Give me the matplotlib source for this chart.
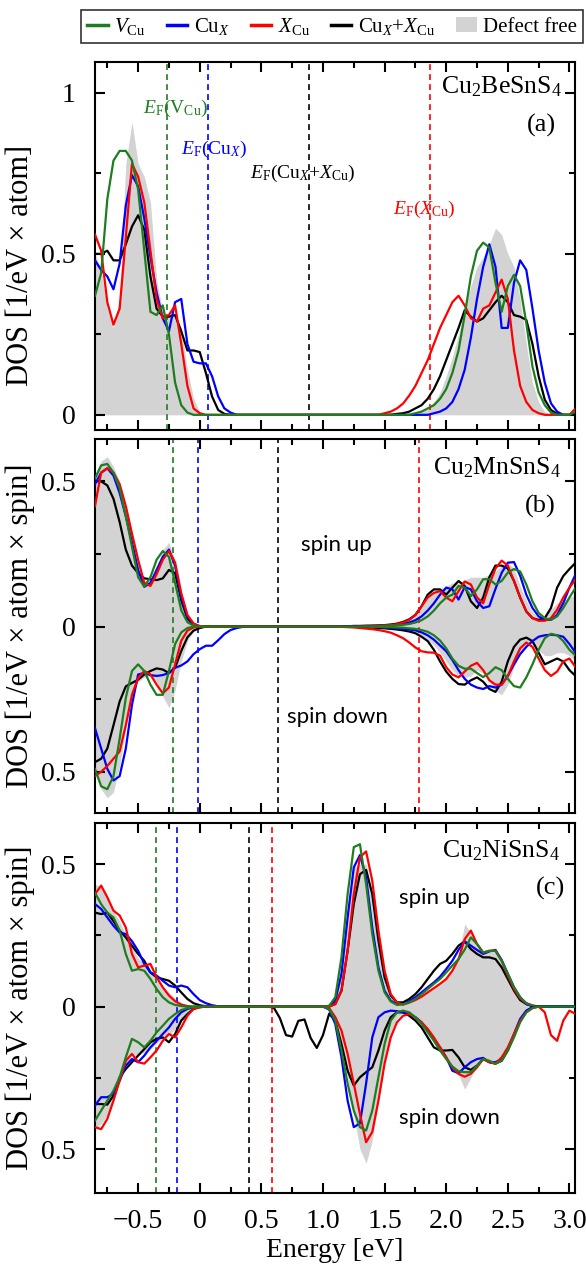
import numpy as np
import matplotlib
matplotlib.use('Agg')
import matplotlib.pyplot as plt
from matplotlib.lines import Line2D
from matplotlib.patches import Patch
from matplotlib.ticker import MultipleLocator

plt.rcParams['font.family'] = 'Liberation Serif'
plt.rcParams['mathtext.fontset'] = 'custom'
plt.rcParams['mathtext.rm'] = 'Liberation Serif'
plt.rcParams['mathtext.it'] = 'Liberation Serif:italic'
plt.rcParams['mathtext.bf'] = 'Liberation Serif:bold'

# energy grid [eV]
energy = [-0.85, -0.80, -0.75, -0.70, -0.65, -0.60, -0.55, -0.50, -0.45, -0.40,
          -0.35, -0.30, -0.25, -0.20, -0.15, -0.10, -0.05, 0.00, 0.05, 0.10,
          0.15, 0.20, 0.25, 0.30, 0.35, 0.40, 0.45, 0.50, 0.55, 0.60,
          0.65, 0.70, 0.75, 0.80, 0.85, 0.90, 0.95, 1.00, 1.05, 1.10,
          1.15, 1.20, 1.25, 1.30, 1.35, 1.40, 1.45, 1.50, 1.55, 1.60,
          1.65, 1.70, 1.75, 1.80, 1.85, 1.90, 1.95, 2.00, 2.05, 2.10,
          2.15, 2.20, 2.25, 2.30, 2.35, 2.40, 2.45, 2.50, 2.55, 2.60,
          2.65, 2.70, 2.75, 2.80, 2.85, 2.90, 2.95, 3.00, 3.05]

# ---- (a) Cu2BeSnS4 ----
a_free = [0.50, 0.45, 0.33, 0.27, 0.36, 0.78, 0.91, 0.78, 0.74, 0.66,
          0.42, 0.32, 0.31, 0.31, 0.27, 0.14, 0.05, 0.01, 0, 0,
          0, 0, 0, 0, 0, 0, 0, 0, 0, 0,
          0, 0, 0, 0, 0, 0, 0, 0, 0, 0,
          0, 0, 0, 0, 0, 0, 0, 0, 0, 0,
          0, 0, 0.005, 0.01, 0.02, 0.04, 0.07, 0.12, 0.18, 0.25,
          0.33, 0.40, 0.46, 0.49, 0.53, 0.58, 0.56, 0.50, 0.46, 0.36,
          0.22, 0.10, 0.04, 0.01, 0, 0, 0, 0, 0.01]
a_vcu = [0.37, 0.44, 0.67, 0.79, 0.82, 0.82, 0.79, 0.70, 0.51, 0.32,
         0.31, 0.34, 0.25, 0.10, 0.03, 0.007, 0, 0, 0, 0,
         0, 0, 0, 0, 0, 0, 0, 0, 0, 0,
         0, 0, 0, 0, 0, 0, 0, 0, 0, 0,
         0, 0, 0, 0, 0, 0, 0, 0, 0, 0,
         0, 0, 0.005, 0.01, 0.02, 0.03, 0.05, 0.08, 0.13, 0.20,
         0.31, 0.43, 0.51, 0.535, 0.52, 0.41, 0.32, 0.40, 0.435, 0.40,
         0.285, 0.15, 0.07, 0.03, 0.007, 0, 0, 0, 0.01]
a_cux = [0.48, 0.45, 0.43, 0.39, 0.47, 0.65, 0.745, 0.71, 0.61, 0.49,
         0.38, 0.30, 0.26, 0.35, 0.36, 0.22, 0.165, 0.16, 0.16, 0.12,
         0.057, 0.02, 0.007, 0, 0, 0, 0, 0, 0, 0,
         0, 0, 0, 0, 0, 0, 0, 0, 0, 0,
         0, 0, 0, 0, 0, 0, 0, 0, 0, 0,
         0, 0, 0, 0, 0, 0.005, 0.01, 0.02, 0.04, 0.08,
         0.14, 0.24, 0.36, 0.46, 0.53, 0.46, 0.27, 0.27, 0.41, 0.48,
         0.45, 0.33, 0.20, 0.10, 0.036, 0.01, 0, 0, 0.01]
a_xcu = [0.56, 0.51, 0.35, 0.28, 0.33, 0.55, 0.78, 0.74, 0.66, 0.51,
         0.36, 0.30, 0.31, 0.34, 0.22, 0.09, 0.02, 0.005, 0, 0,
         0, 0, 0, 0, 0, 0, 0, 0, 0, 0,
         0, 0, 0, 0, 0, 0, 0, 0, 0, 0,
         0, 0, 0, 0, 0, 0, 0, 0.005, 0.01, 0.02,
         0.035, 0.06, 0.09, 0.13, 0.17, 0.22, 0.27, 0.31, 0.35, 0.37,
         0.34, 0.30, 0.29, 0.33, 0.34, 0.38, 0.42, 0.36, 0.20, 0.09,
         0.04, 0.015, 0.005, 0, 0, 0, 0, 0, 0.02]
a_both = [0.50, 0.50, 0.51, 0.48, 0.48, 0.53, 0.585, 0.62, 0.575, 0.43,
          0.33, 0.305, 0.305, 0.31, 0.26, 0.20, 0.20, 0.195, 0.13, 0.057,
          0.015, 0.003, 0, 0, 0, 0, 0, 0, 0, 0,
          0, 0, 0, 0, 0, 0, 0, 0, 0, 0,
          0, 0, 0, 0, 0, 0, 0, 0, 0, 0.003,
          0.005, 0.01, 0.02, 0.03, 0.05, 0.08, 0.12, 0.17, 0.22, 0.27,
          0.325, 0.305, 0.29, 0.30, 0.325, 0.35, 0.37, 0.35, 0.31, 0.305,
          0.295, 0.22, 0.12, 0.047, 0.015, 0.003, 0, 0, 0.005]

# ---- (b) Cu2MnSnS4, spin up ----
b_free_up = [0.52, 0.57, 0.585, 0.55, 0.50, 0.42, 0.33, 0.235, 0.16, 0.16,
             0.20, 0.265, 0.29, 0.23, 0.12, 0.045, 0.012, 0.003, 0, 0,
             0, 0, 0, 0, 0, 0, 0, 0, 0, 0,
             0, 0, 0, 0, 0, 0, 0, 0, 0, 0.001,
             0.001, 0.002, 0.002, 0.003, 0.004, 0.006, 0.008, 0.01, 0.012, 0.015,
             0.02, 0.03, 0.045, 0.07, 0.10, 0.12, 0.13, 0.14, 0.15, 0.15,
             0.16, 0.17, 0.17, 0.17, 0.18, 0.19, 0.21, 0.22, 0.20, 0.14,
             0.09, 0.05, 0.03, 0.04, 0.06, 0.08, 0.09, 0.10, 0.11]
b_vcu_up = [0.51, 0.555, 0.56, 0.53, 0.475, 0.38, 0.275, 0.17, 0.137, 0.17,
            0.23, 0.26, 0.24, 0.15, 0.056, 0.015, 0.003, 0, 0, 0,
            0, 0, 0, 0, 0, 0, 0, 0, 0, 0,
            0, 0, 0, 0, 0, 0, 0, 0, 0, 0,
            0, 0, 0, 0, 0, 0.001, 0.001, 0.002, 0.003, 0.004,
            0.006, 0.009, 0.014, 0.022, 0.035, 0.055, 0.08, 0.10, 0.11, 0.14,
            0.134, 0.105, 0.128, 0.163, 0.163, 0.145, 0.157, 0.186, 0.198, 0.19,
            0.145, 0.087, 0.047, 0.029, 0.023, 0.035, 0.064, 0.10, 0.134]
b_cux_up = [0.49, 0.53, 0.545, 0.52, 0.46, 0.38, 0.29, 0.195, 0.137, 0.15,
            0.195, 0.24, 0.265, 0.21, 0.10, 0.033, 0.01, 0, 0, 0,
            0, 0, 0, 0, 0, 0, 0, 0, 0, 0,
            0, 0, 0, 0, 0, 0, 0, 0, 0, 0,
            0, 0, 0, 0, 0, 0.002, 0.002, 0.003, 0.004, 0.006,
            0.009, 0.014, 0.022, 0.035, 0.055, 0.08, 0.11, 0.134, 0.128, 0.093,
            0.136, 0.128, 0.087, 0.064, 0.07, 0.13, 0.185, 0.22, 0.222, 0.175,
            0.11, 0.064, 0.035, 0.023, 0.023, 0.04, 0.081, 0.134, 0.18]
b_xcu_up = [0.415, 0.53, 0.545, 0.53, 0.49, 0.415, 0.32, 0.23, 0.15, 0.14,
            0.18, 0.23, 0.26, 0.22, 0.115, 0.04, 0.01, 0.002, 0, 0,
            0, 0, 0, 0, 0, 0, 0, 0, 0, 0,
            0, 0, 0, 0, 0, 0, 0, 0, 0, 0.001,
            0.001, 0.001, 0.002, 0.002, 0.002, 0.003, 0.003, 0.004, 0.005, 0.008,
            0.014, 0.023, 0.04, 0.07, 0.10, 0.116, 0.122, 0.10, 0.087, 0.122,
            0.155, 0.145, 0.10, 0.08, 0.145, 0.20, 0.227, 0.21, 0.157, 0.10,
            0.052, 0.029, 0.02, 0.02, 0.029, 0.058, 0.10, 0.134, 0.163]
b_both_up = [0.50, 0.50, 0.486, 0.44, 0.36, 0.265, 0.21, 0.184, 0.166, 0.163,
             0.16, 0.166, 0.195, 0.184, 0.09, 0.027, 0.007, 0, 0, 0,
             0, 0, 0, 0, 0, 0, 0, 0, 0, 0,
             0, 0, 0, 0, 0, 0, 0, 0, 0, 0,
             0.001, 0.001, 0.002, 0.002, 0.003, 0.003, 0.004, 0.005, 0.007, 0.01,
             0.016, 0.025, 0.04, 0.07, 0.11, 0.128, 0.128, 0.11, 0.134, 0.157,
             0.14, 0.087, 0.064, 0.10, 0.17, 0.21, 0.21, 0.20, 0.157, 0.10,
             0.052, 0.029, 0.023, 0.029, 0.064, 0.134, 0.174, 0.198, 0.22]

# ---- (b) spin down ----
b_free_dn = [-0.50, -0.56, -0.59, -0.57, -0.48, -0.35, -0.24, -0.19, -0.175, -0.17,
             -0.19, -0.24, -0.28, -0.22, -0.12, -0.05, -0.015, -0.003, 0, 0,
             0, 0, 0, 0, 0, 0, 0, 0, 0, 0,
             0, 0, 0, 0, 0, 0, 0, 0, 0, 0,
             0, 0, 0, 0, -0.002, -0.003, -0.004, -0.005, -0.006, -0.008,
             -0.011, -0.015, -0.02, -0.03, -0.045, -0.065, -0.09, -0.12, -0.15, -0.17,
             -0.175, -0.17, -0.15, -0.16, -0.19, -0.22, -0.235, -0.20, -0.14, -0.09,
             -0.06, -0.06, -0.08, -0.10, -0.10, -0.09, -0.09, -0.10, -0.12]
b_vcu_dn = [-0.49, -0.55, -0.56, -0.515, -0.386, -0.246, -0.153, -0.13, -0.153, -0.20,
            -0.235, -0.235, -0.153, -0.06, -0.02, -0.005, 0, 0, 0, 0,
            0, 0, 0, 0, 0, 0, 0, 0, 0, 0,
            0, 0, 0, 0, 0, 0, 0, 0, 0, 0,
            0, 0, 0, 0, 0, -0.001, -0.001, -0.002, -0.002, -0.003,
            -0.004, -0.006, -0.008, -0.012, -0.018, -0.03, -0.048, -0.075, -0.11, -0.135,
            -0.145, -0.145, -0.16, -0.174, -0.16, -0.14, -0.15, -0.18, -0.205, -0.21,
            -0.175, -0.13, -0.08, -0.04, -0.025, -0.03, -0.05, -0.08, -0.10]
b_cux_dn = [-0.35, -0.42, -0.49, -0.53, -0.515, -0.42, -0.27, -0.165, -0.16, -0.167,
            -0.17, -0.167, -0.16, -0.142, -0.134, -0.12, -0.095, -0.078, -0.066, -0.066,
            -0.047, -0.026, -0.012, -0.005, -0.001, 0, 0, 0, 0, 0,
            0, 0, 0, 0, 0, 0, 0, 0, 0, 0,
            0, 0, 0, 0, -0.001, -0.001, -0.002, -0.003, -0.004, -0.006,
            -0.008, -0.01, -0.013, -0.02, -0.03, -0.045, -0.065, -0.085, -0.115, -0.15,
            -0.18, -0.20, -0.21, -0.215, -0.205, -0.21, -0.20, -0.17, -0.13, -0.095,
            -0.07, -0.05, -0.035, -0.03, -0.028, -0.03, -0.035, -0.06, -0.09]
b_xcu_dn = [-0.515, -0.50, -0.48, -0.455, -0.43, -0.34, -0.235, -0.177, -0.153, -0.165,
            -0.20, -0.23, -0.21, -0.13, -0.049, -0.014, -0.003, 0, 0, 0,
            0, 0, 0, 0, 0, 0, 0, 0, 0, 0,
            0, 0, 0, 0, 0, 0, 0, 0, 0, 0,
            -0.001, -0.002, -0.003, -0.005, -0.007, -0.009, -0.012, -0.016, -0.021, -0.03,
            -0.04, -0.055, -0.072, -0.085, -0.089, -0.09, -0.10, -0.14, -0.165, -0.175,
            -0.155, -0.135, -0.125, -0.15, -0.185, -0.20, -0.20, -0.17, -0.12, -0.075,
            -0.055, -0.07, -0.11, -0.15, -0.17, -0.155, -0.12, -0.11, -0.14]
b_both_dn = [-0.467, -0.455, -0.42, -0.34, -0.258, -0.206, -0.194, -0.183, -0.165, -0.153,
             -0.144, -0.148, -0.16, -0.142, -0.084, -0.037, -0.014, -0.005, 0, 0,
             0, 0, 0, 0, 0, 0, 0, 0, 0, 0,
             0, 0, 0, 0, 0, 0, 0, 0, 0, 0,
             0, 0, 0, 0, -0.003, -0.004, -0.005, -0.006, -0.008, -0.01,
             -0.013, -0.017, -0.023, -0.035, -0.05, -0.08, -0.12, -0.155, -0.18, -0.198,
             -0.20, -0.185, -0.175, -0.19, -0.215, -0.225, -0.19, -0.12, -0.07, -0.045,
             -0.038, -0.05, -0.09, -0.13, -0.12, -0.11, -0.12, -0.15, -0.17]

# ---- (c) Cu2NiSnS4, spin up ----
c_free_up = [0.43, 0.42, 0.38, 0.335, 0.30, 0.25, 0.21, 0.17, 0.15, 0.125,
             0.095, 0.07, 0.05, 0.03, 0.015, 0.006, 0.002, 0, 0, 0,
             0, 0, 0, 0, 0, 0, 0, 0, 0, 0,
             0, 0, 0, 0, 0, 0, 0, 0, 0.003, 0.02,
             0.15, 0.35, 0.49, 0.50, 0.50, 0.40, 0.24, 0.11, 0.04, 0.012,
             0.005, 0.012, 0.022, 0.035, 0.05, 0.065, 0.08, 0.10, 0.13, 0.18,
             0.29, 0.26, 0.21, 0.19, 0.195, 0.195, 0.16, 0.11, 0.065, 0.03,
             0.01, 0.003, 0, 0, 0, 0, 0, 0, 0]
c_vcu_up = [0.40, 0.36, 0.33, 0.313, 0.267, 0.185, 0.126, 0.132, 0.126, 0.097,
            0.062, 0.033, 0.015, 0.006, 0.002, 0, 0, 0, 0, 0,
            0, 0, 0, 0, 0, 0, 0, 0, 0, 0,
            0, 0, 0, 0, 0, 0, 0, 0, 0.003, 0.033,
            0.173, 0.395, 0.56, 0.57, 0.43, 0.255, 0.126, 0.05, 0.018, 0.006,
            0.008, 0.015, 0.027, 0.044, 0.062, 0.08, 0.097, 0.12, 0.144, 0.167,
            0.20, 0.243, 0.22, 0.19, 0.196, 0.196, 0.161, 0.115, 0.068, 0.033,
            0.012, 0.004, 0, 0, 0, 0, 0, 0, 0]
c_cux_up = [0.36, 0.343, 0.313, 0.284, 0.26, 0.255, 0.23, 0.196, 0.15, 0.12,
            0.109, 0.091, 0.074, 0.068, 0.074, 0.068, 0.044, 0.023, 0.012, 0.005,
            0.001, 0, 0, 0, 0, 0, 0, 0, 0, 0,
            0, 0, 0, 0, 0, 0, 0, 0, 0.002, 0.021,
            0.115, 0.313, 0.489, 0.532, 0.454, 0.278, 0.138, 0.056, 0.021, 0.009,
            0.009, 0.019, 0.033, 0.05, 0.068, 0.085, 0.105, 0.132, 0.161, 0.199,
            0.229, 0.214, 0.199, 0.185, 0.194, 0.199, 0.164, 0.115, 0.068, 0.033,
            0.009, 0.002, 0, 0, 0, 0, 0, 0, 0]
c_xcu_up = [0.395, 0.425, 0.384, 0.337, 0.32, 0.278, 0.185, 0.138, 0.144, 0.15,
            0.103, 0.068, 0.039, 0.019, 0.007, 0.002, 0, 0, 0, 0,
            0, 0, 0, 0, 0, 0, 0, 0, 0, 0,
            0, 0, 0, 0, 0, 0, 0, 0, 0, 0.009,
            0.056, 0.196, 0.395, 0.524, 0.545, 0.442, 0.267, 0.126, 0.044, 0.015,
            0.007, 0.014, 0.023, 0.035, 0.05, 0.065, 0.08, 0.097, 0.126, 0.167,
            0.237, 0.267, 0.22, 0.19, 0.196, 0.196, 0.161, 0.109, 0.062, 0.029,
            0.012, 0.004, 0, 0, 0, 0, 0, 0, 0]
c_both_up = [0.33, 0.325, 0.33, 0.30, 0.267, 0.243, 0.214, 0.185, 0.161, 0.12,
             0.103, 0.097, 0.091, 0.074, 0.05, 0.027, 0.012, 0.005, 0.001, 0,
             0, 0, 0, 0, 0, 0, 0, 0, 0, 0,
             0, 0, 0, 0, 0, 0, 0, 0, 0.001, 0.009,
             0.056, 0.196, 0.36, 0.465, 0.48, 0.395, 0.232, 0.103, 0.039, 0.015,
             0.015, 0.027, 0.044, 0.068, 0.097, 0.126, 0.15, 0.161, 0.185, 0.214,
             0.229, 0.202, 0.185, 0.173, 0.173, 0.167, 0.138, 0.097, 0.056, 0.023,
             0.009, 0.002, 0, 0, 0, 0, 0, 0, 0]

# ---- (c) spin down ----
c_free_dn = [-0.43, -0.41, -0.38, -0.33, -0.26, -0.21, -0.17, -0.17, -0.16, -0.15,
             -0.13, -0.11, -0.10, -0.08, -0.05, -0.02, -0.006, -0.001, 0, 0,
             0, 0, 0, 0, 0, 0, 0, 0, 0, 0,
             0, 0, 0, 0, 0, 0, 0, 0, -0.003, -0.04,
             -0.12, -0.25, -0.38, -0.50, -0.55, -0.47, -0.33, -0.19, -0.09, -0.04,
             -0.02, -0.02, -0.03, -0.05, -0.075, -0.105, -0.14, -0.175, -0.21, -0.24,
             -0.29, -0.25, -0.20, -0.18, -0.19, -0.195, -0.185, -0.15, -0.10, -0.05,
             -0.018, -0.004, 0, 0, 0, 0, 0, 0, 0]
c_vcu_dn = [-0.40, -0.365, -0.33, -0.295, -0.248, -0.178, -0.113, -0.125, -0.143, -0.12,
            -0.09, -0.067, -0.043, -0.026, -0.012, -0.005, -0.001, 0, 0, 0,
            0, 0, 0, 0, 0, 0, 0, 0, 0, 0,
            0, 0, 0, 0, 0, 0, 0, 0, -0.008, -0.049,
            -0.154, -0.27, -0.365, -0.423, -0.435, -0.365, -0.248, -0.131, -0.049, -0.02,
            -0.014, -0.02, -0.037, -0.061, -0.09, -0.12, -0.154, -0.184, -0.21, -0.227,
            -0.23, -0.23, -0.207, -0.184, -0.19, -0.20, -0.19, -0.154, -0.108, -0.055,
            -0.02, -0.005, 0, 0, 0, 0, 0, 0, 0]
c_cux_dn = [-0.347, -0.318, -0.318, -0.306, -0.26, -0.207, -0.184, -0.195, -0.172, -0.143,
            -0.12, -0.096, -0.073, -0.043, -0.02, -0.008, -0.002, 0, 0, 0,
            0, 0, 0, 0, 0, 0, 0, 0, 0, 0,
            0, 0, 0, 0, 0, 0, 0, 0, -0.01, -0.061,
            -0.178, -0.33, -0.423, -0.41, -0.27, -0.108, -0.037, -0.02, -0.014, -0.016,
            -0.02, -0.026, -0.037, -0.055, -0.084, -0.113, -0.143, -0.178, -0.225, -0.234,
            -0.213, -0.195, -0.184, -0.18, -0.195, -0.195, -0.184, -0.149, -0.096, -0.043,
            -0.014, -0.002, 0, 0, 0, 0, 0, 0, 0]
c_xcu_dn = [-0.423, -0.43, -0.394, -0.33, -0.26, -0.19, -0.166, -0.195, -0.20, -0.178,
            -0.154, -0.12, -0.096, -0.108, -0.073, -0.032, -0.008, -0.002, 0, 0,
            0, 0, 0, 0, 0, 0, 0, 0, 0, 0,
            0, 0, 0, 0, 0, 0, 0, 0, -0.005, -0.037,
            -0.084, -0.166, -0.27, -0.377, -0.476, -0.44, -0.33, -0.20, -0.108, -0.055,
            -0.032, -0.026, -0.037, -0.055, -0.078, -0.108, -0.143, -0.178, -0.213, -0.236,
            -0.246, -0.236, -0.213, -0.184, -0.195, -0.20, -0.178, -0.143, -0.096, -0.049,
            -0.02, -0.005, 0, -0.02, -0.10, -0.12, -0.049, -0.014, -0.026]
c_both_dn = [-0.342, -0.342, -0.344, -0.312, -0.248, -0.219, -0.195, -0.172, -0.149, -0.125,
             -0.113, -0.108, -0.125, -0.096, -0.049, -0.026, -0.008, -0.002, 0, 0,
             0, 0, 0, 0, 0, 0, 0, 0, 0, -0.003,
             -0.04, -0.10, -0.105, -0.05, -0.045, -0.11, -0.145, -0.10, -0.025, -0.049,
             -0.131, -0.225, -0.277, -0.248, -0.23, -0.213, -0.154, -0.084, -0.037, -0.02,
             -0.02, -0.032, -0.049, -0.073, -0.108, -0.143, -0.154, -0.154, -0.152, -0.178,
             -0.213, -0.222, -0.207, -0.184, -0.195, -0.20, -0.19, -0.154, -0.102, -0.049,
             -0.016, -0.002, 0, 0, 0, 0, 0, 0, 0]

# Fermi levels [eV]: V_Cu, Cu_X, Cu_X+X_Cu, X_Cu
ef_a = [-0.265, 0.068, 0.89, 1.87]
ef_b = [-0.216, -0.014, 0.635, 1.78]
ef_c = [-0.357, -0.184, 0.397, 0.584]

col_v = '#1e7d1e'
col_cux = '#0000ff'
col_xcu = '#ff0000'
col_both = '#000000'
col_free = '#d3d3d3'
ef_cols = [col_v, col_cux, col_both, col_xcu]

xticks = [-0.5, 0, 0.5, 1.0, 1.5, 2.0, 2.5, 3.0]
xticklabels = ['\u22120.5', '0', '0.5', '1.0', '1.5', '2.0', '2.5', '3.0']

fig = plt.figure(figsize=(5.86, 12.65), dpi=100)
ax_a = fig.add_axes([0.1621, 0.6601, 0.8191, 0.2911])
ax_b = fig.add_axes([0.1621, 0.3573, 0.8191, 0.2957])
ax_c = fig.add_axes([0.1621, 0.0572, 0.8191, 0.2925])


def draw_curves(ax, vcu, cux, xcu, both):
    kw = dict(lw=1.6, zorder=3, solid_joinstyle='round')
    ax.plot(energy, both, color=col_both, **kw)
    ax.plot(energy, cux, color=col_cux, **kw)
    ax.plot(energy, xcu, color=col_xcu, **kw)
    ax.plot(energy, vcu, color=col_v, **kw)


def style(ax, ef, ylim, yticks, yticklabels, ylabel, ylab_y, show_x):
    ax.set_xlim(-0.85, 3.045)
    ax.set_ylim(*ylim)
    ax.set_xticks(xticks)
    if show_x:
        ax.set_xticklabels(xticklabels)
    else:
        ax.set_xticklabels([])
    ax.set_yticks(yticks)
    ax.set_yticklabels(yticklabels)
    ax.xaxis.set_minor_locator(MultipleLocator(0.25))
    ax.yaxis.set_minor_locator(MultipleLocator(0.25))
    ax.tick_params(which='both', direction='in', top=True, right=True, width=1.5)
    ax.tick_params(which='major', length=7, labelsize=20)
    ax.tick_params(which='minor', length=4)
    ax.tick_params(axis='y', pad=14)
    ax.tick_params(axis='x', pad=12)
    for s in ax.spines.values():
        s.set_linewidth(1.5)
    ax.set_ylabel(ylabel, fontsize=22)
    ax.yaxis.set_label_coords(-0.125, ylab_y)
    for e, c in zip(ef, ef_cols):
        ax.axvline(e, color=c, lw=1.2, ls=(0, (3.5, 2.5)), zorder=2)


# (a)
ax_a.fill_between(energy, 0, a_free, color=col_free, lw=0, zorder=1)
draw_curves(ax_a, a_vcu, a_cux, a_xcu, a_both)
style(ax_a, ef_a, (-0.047, 1.097), [0, 0.5, 1], ['0', '0.5', '1'],
      'DOS [1/eV \u00d7 atom]', 0.446, False)
ax_a.text(0.972, 0.931, 'Cu$_2$BeSnS$_4$', transform=ax_a.transAxes,
          ha='right', va='center', fontsize=18.5)
ax_a.text(0.931, 0.828, '(a)', transform=ax_a.transAxes,
          ha='center', va='center', fontsize=19)
ax_a.text(-0.46, 0.953, r'$E_{\rm F}$(V$_{\rm Cu}$)', color=col_v,
          ha='left', va='center', fontsize=14)
ax_a.text(0.118, 0.823, r'$E_{\rm F}$(Cu$_X$)', color=col_cux,
          ha='center', va='center', fontsize=14)
ax_a.text(0.837, 0.75, r'$E_{\rm F}$(Cu$_X$+$X_{\rm Cu}$)', color=col_both,
          ha='center', va='center', fontsize=14)
ax_a.text(1.82, 0.637, r'$E_{\rm F}$($X_{\rm Cu}$)', color=col_xcu,
          ha='center', va='center', fontsize=14)

# (b)
ax_b.fill_between(energy, b_free_dn, b_free_up, color=col_free, lw=0, zorder=1)
draw_curves(ax_b, b_vcu_up, b_cux_up, b_xcu_up, b_both_up)
draw_curves(ax_b, b_vcu_dn, b_cux_dn, b_xcu_dn, b_both_dn)
style(ax_b, ef_b, (-0.642, 0.646), [-0.5, 0, 0.5], ['0.5', '0', '0.5'],
      'DOS [1/eV \u00d7 atom \u00d7 spin]', 0.5, False)
ax_b.text(0.972, 0.922, 'Cu$_2$MnSnS$_4$', transform=ax_b.transAxes,
          ha='right', va='center', fontsize=18.5)
ax_b.text(0.927, 0.819, '(b)', transform=ax_b.transAxes,
          ha='center', va='center', fontsize=19)
ax_b.text(1.11, 0.28, 'spin up', family='Lato', ha='center', va='center', fontsize=16)
ax_b.text(1.12, -0.31, 'spin down', family='Lato', ha='center', va='center', fontsize=16)

# (c)
ax_c.fill_between(energy, c_free_dn, c_free_up, color=col_free, lw=0, zorder=1)
draw_curves(ax_c, c_vcu_up, c_cux_up, c_xcu_up, c_both_up)
draw_curves(ax_c, c_vcu_dn, c_cux_dn, c_xcu_dn, c_both_dn)
style(ax_c, ef_c, (-0.653, 0.646), [-0.5, 0, 0.5], ['0.5', '0', '0.5'],
      'DOS [1/eV \u00d7 atom \u00d7 spin]', 0.5, True)
ax_c.text(0.969, 0.923, 'Cu$_2$NiSnS$_4$', transform=ax_c.transAxes,
          ha='right', va='center', fontsize=18.5)
ax_c.text(0.948, 0.822, '(c)', transform=ax_c.transAxes,
          ha='center', va='center', fontsize=19)
ax_c.text(1.90, 0.38, 'spin up', family='Lato', ha='center', va='center', fontsize=16)
ax_c.text(2.03, -0.39, 'spin down', family='Lato', ha='center', va='center', fontsize=16)
ax_c.set_xlabel('Energy [eV]', fontsize=20)
ax_c.xaxis.set_label_coords(0.5, -0.122)

handles = [Line2D([], [], color=col_v, lw=2.5),
           Line2D([], [], color=col_cux, lw=2.5),
           Line2D([], [], color=col_xcu, lw=2.5),
           Line2D([], [], color=col_both, lw=2.5),
           Patch(facecolor=col_free, edgecolor='none')]
labels = [r'$V_{\rm Cu}$', r'Cu$_X$', r'$X_{\rm Cu}$', r'Cu$_X$+$X_{\rm Cu}$', 'Defect free']
leg = fig.legend(handles, labels, loc='center', bbox_to_anchor=(0.5666, 0.979),
                 ncol=5, frameon=True, fancybox=False, edgecolor='black',
                 fontsize=15, handlelength=1.0, handletextpad=0.3,
                 columnspacing=1.0, borderpad=0.3, borderaxespad=0)
leg.get_frame().set_linewidth(1.2)

fig.savefig('out.png', dpi=100)
